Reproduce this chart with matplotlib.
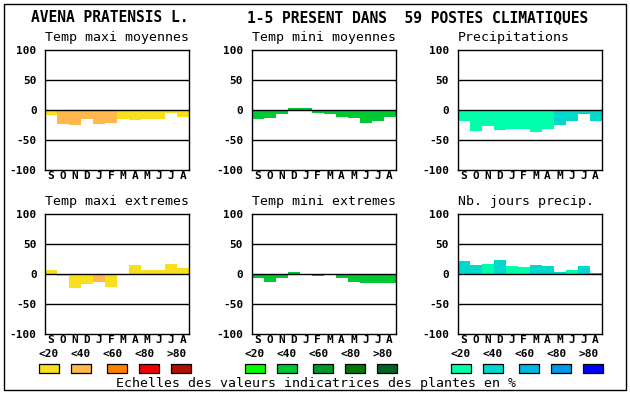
import matplotlib
matplotlib.use("Agg")
import matplotlib.pyplot as plt
from matplotlib.patches import Rectangle

# ----------------------------------------
# data
# ----------------------------------------
months = ["S", "O", "N", "D", "J", "F", "M", "A", "M", "J", "J", "A"]
scale_labels = ["<20", "<40", "<60", "<80", ">80"]

tmax_moy = [-8, -23, -25, -15, -23, -21, -15, -16, -15, -15, -5, -12]
tmax_moy_cls = [0, 1, 1, 1, 1, 1, 0, 0, 0, 0, 0, 0]

tmin_moy = [-15, -13, -7, 3, 3, -5, -6, -11, -13, -21, -18, -11]
tmin_moy_cls = [1] * 12

precip = [-18, -35, -26, -33, -31, -31, -36, -31, -25, -18, -6, -18]
precip_cls = [0, 0, 0, 0, 0, 0, 0, 0, 1, 1, 1, 1]

tmax_ext = [7, -3, -24, -16, -14, -21, 0, 15, 7, 7, 17, 10]
tmax_ext_cls = [0, 0, 0, 0, 1, 0, 0, 0, 0, 0, 0, 0]

tmin_ext = [-7, -14, -6, 4, -2, -4, 0, -7, -14, -15, -15, -15]
tmin_ext_cls = [1] * 12

njours = [22, 15, 17, 23, 13, 12, 15, 13, 3, 7, 13, 2]
njours_cls = [1, 1, 0, 1, 0, 0, 1, 1, 1, 0, 1, 1]

# palettes (5 classes each)
warm = ["#f8e01c", "#ffb84c", "#ff8000", "#f00000", "#b01000"]
green = ["#00ff00", "#00c832", "#009628", "#007800", "#006420"]
blue = ["#00ffaa", "#00d8cc", "#00b8e0", "#0098e8", "#0000ff"]

W, H = 630, 394
MONO = "DejaVu Sans Mono"


def px_axes(fig, x, y_top, w, h):
    """pixel box (origine en haut a gauche) -> axes"""
    return fig.add_axes([x / W, 1 - (y_top + h) / H, w / W, h / H])


def draw_panel(fig, x, y_top, title, values, cls, palette):
    ax = px_axes(fig, x, y_top, 144, 120)
    colors = [palette[c] for c in cls]
    ax.bar(range(12), values, width=1.0, align="edge", color=colors,
           linewidth=0, zorder=1)
    for yv in (50, 0, -50):
        ax.axhline(yv, color="black", linewidth=1.0, zorder=3)
    ax.set_xlim(0, 12)
    ax.set_ylim(-100, 100)
    ax.set_yticks([100, 50, 0, -50, -100])
    ax.set_yticklabels(["100", "50", "0", "-50", "-100"],
                       fontfamily=MONO, fontweight="bold", fontsize=8)
    ax.set_xticks([i + 0.5 for i in range(12)])
    ax.set_xticklabels(months, fontfamily=MONO, fontweight="bold", fontsize=8)
    ax.tick_params(length=0)
    ax.tick_params(axis="x", pad=1)
    ax.tick_params(axis="y", pad=6)
    for s in ax.spines.values():
        s.set_linewidth(1.0)
    fig.text(x / W, 1 - (y_top - 12) / H, title, fontfamily=MONO,
             fontsize=9.5, ha="left", va="center")
    return ax


def draw_scale(fig, x0, palette):
    label_x = [x0 + 10 + 32 * i for i in range(5)]
    box_x = [x0, x0 + 32, x0 + 68, x0 + 100, x0 + 132]
    for lx, lab in zip(label_x, scale_labels):
        fig.text(lx / W, 1 - 354 / H, lab, fontfamily=MONO, fontweight="bold",
                 fontsize=8, ha="center", va="center")
    for bx, col in zip(box_x, palette):
        fig.patches.append(Rectangle((bx / W, 1 - 373 / H), 20 / W, 9 / H,
                                     transform=fig.transFigure,
                                     facecolor=col, edgecolor="black",
                                     linewidth=0.9))


fig = plt.figure(figsize=(W / 100, H / 100), dpi=100)
fig.patch.set_facecolor("white")

# cadre exterieur
fig.patches.append(Rectangle((4 / W, 1 - 390 / H), 622 / W, 386 / H,
                             transform=fig.transFigure, fill=False,
                             edgecolor="black", linewidth=1.0))

fig.text(31 / W, 1 - 18 / H, "AVENA PRATENSIS L.", fontfamily=MONO,
         fontsize=10.5, fontweight="bold", ha="left", va="center")
fig.text(247 / W, 1 - 18 / H, "1-5 PRESENT DANS  59 POSTES CLIMATIQUES",
         fontfamily=MONO, fontsize=10.5, fontweight="bold", ha="left", va="center")

cols = [45, 251.5, 457.5]
rows = [50, 214]

draw_panel(fig, cols[0], rows[0], "Temp maxi moyennes", tmax_moy, tmax_moy_cls, warm)
draw_panel(fig, cols[1], rows[0], "Temp mini moyennes", tmin_moy, tmin_moy_cls, green)
draw_panel(fig, cols[2], rows[0], "Precipitations", precip, precip_cls, blue)
draw_panel(fig, cols[0], rows[1], "Temp maxi extremes", tmax_ext, tmax_ext_cls, warm)
draw_panel(fig, cols[1], rows[1], "Temp mini extremes", tmin_ext, tmin_ext_cls, green)
draw_panel(fig, cols[2], rows[1], "Nb. jours precip.", njours, njours_cls, blue)

draw_scale(fig, 39, warm)
draw_scale(fig, 245, green)
draw_scale(fig, 451, blue)

fig.text(116 / W, 1 - 383 / H,
         "Echelles des valeurs indicatrices des plantes en %",
         fontfamily=MONO, fontsize=9.5, ha="left", va="center")

fig.savefig("out.png", dpi=100)
